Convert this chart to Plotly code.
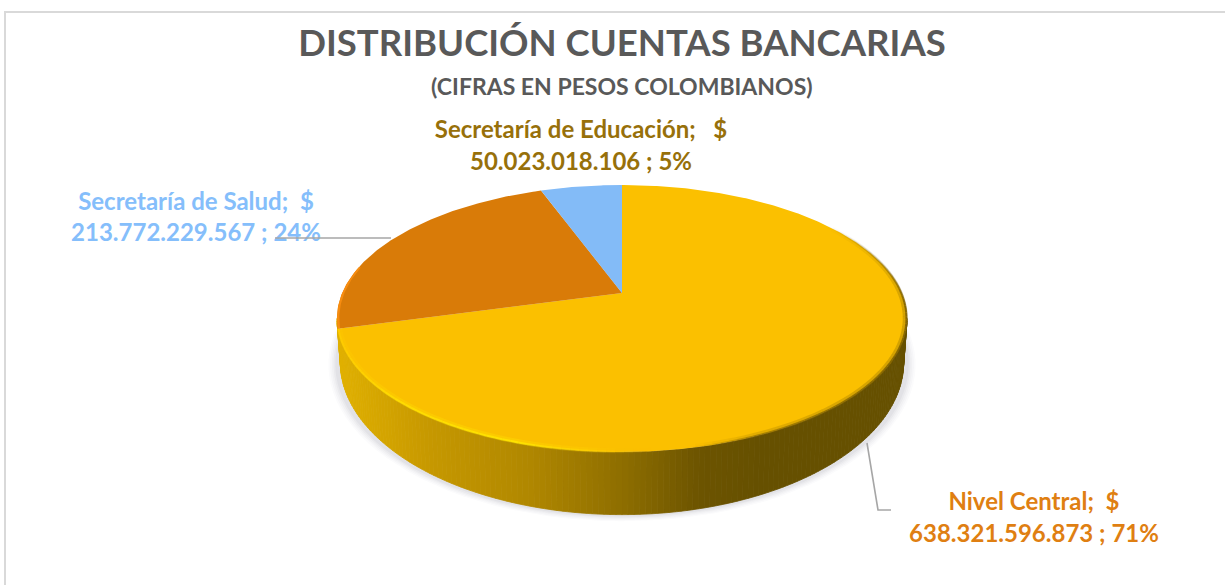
import math
import plotly.graph_objects as go

# ---- data -------------------------------------------------------------
categories = ["Nivel Central", "Secretaría de Salud", "Secretaría de Educación"]
values = [638321596873, 213772229567, 50023018106]
percent_labels = ["71%", "24%", "5%"]
slice_colors = ["#FBC000", "#D97B08", "#83BBF7"]
label_colors = ["#DF7F12", "#85BEFB", "#97700A"]
chart_title = "DISTRIBUCIÓN CUENTAS BANCARIAS"
chart_subtitle = "(CIFRAS EN PESOS COLOMBIANOS)"

# ---- 3D-look projection of the pie disc onto hidden pixel-like axes ----
CX, CY = 622.0, 293.0
A, B, P = 128.6, 279.8, 0.191
DEPTH = 41.0


def project(theta_deg, r=1.0, lowered=0.0, shrink=0.0):
    t = math.radians(theta_deg)
    u, v = r * math.sin(t), r * math.cos(t)
    w = 1 + P * v
    return (CX + B * u / w * (1 - shrink * lowered),
            CY - A * v / w + DEPTH * lowered / (w * w))


def frange(a, b, step):
    n = max(1, int(abs(b - a) / step))
    return [a + (b - a) * i / n for i in range(n + 1)]


def lerp_stops(x, stops):
    if x <= stops[0][0]:
        return stops[0][1]
    for (x0, c0), (x1, c1) in zip(stops, stops[1:]):
        if x <= x1:
            k = (x - x0) / (x1 - x0)
            return tuple(c0[i] + (c1[i] - c0[i]) * k for i in range(len(c0)))
    return stops[-1][1]


def rgb(c, alpha=None):
    if alpha is None:
        return "rgb(%d,%d,%d)" % tuple(round(q) for q in c[:3])
    return "rgba(%d,%d,%d,%.3f)" % (*[round(q) for q in c[:3]], alpha)


total = sum(values)
spans = []
acc = 0.0
for val in values:
    spans.append((acc / total * 360, (acc + val) / total * 360))
    acc += val

side_stops = [(338, (224, 176, 0)), (430, (198, 152, 0)), (530, (176, 135, 0)),
              (622, (142, 110, 0)), (700, (108, 84, 0)), (760, (102, 80, 0)),
              (907, (102, 80, 0))]
# colour + opacity of the bevel along the top face edge, by screen x
bevel_stops = [(338, (255, 205, 0, 0.7)), (400, (255, 222, 0, 0.9)), (520, (255, 228, 0, 0.9)),
               (600, (255, 210, 0, 0.5)), (650, (240, 185, 0, 0.0)), (690, (130, 100, 0, 0.0)),
               (760, (120, 92, 0, 0.55)), (907, (120, 92, 0, 0.85))]

fig = go.Figure()


def poly(xs, ys, color, name=None, line=0.0):
    fig.add_trace(go.Scatter(
        x=xs, y=ys, mode="lines", fill="toself", fillcolor=color, name=name,
        line=dict(color=color, width=line), hoverinfo="skip" if name is None else "name"))


# soft shadow under the disc
for grow, alpha in [(1.030, 0.018), (1.024, 0.022), (1.018, 0.028), (1.012, 0.035), (1.006, 0.04)]:
    pts = [project(t, r=1.0, lowered=1.0) for t in frange(0, 360, 3)]
    xs = [CX + (p[0] - CX) * grow for p in pts]
    ys = [CY + 30 + (p[1] - CY - 30) * grow + 1 for p in pts]
    poly(xs, ys, f"rgba(60,60,80,{alpha})")

# side wall, drawn as thin strips shaded from left to right
SIDE_A, SIDE_B = 101.0, 259.0
strip_edges = frange(SIDE_A, SIDE_B, 1.0)
for t0, t1 in zip(strip_edges, strip_edges[1:]):
    p0, p1 = project(t0), project(t1)
    q0, q1 = project(t0, lowered=1.0, shrink=0.012), project(t1, lowered=1.0, shrink=0.012)
    col = rgb(lerp_stops((p0[0] + p1[0]) / 2, side_stops))
    poly([p0[0], p1[0], q1[0], q0[0], p0[0]], [p0[1], p1[1], q1[1], q0[1], p0[1]], col, line=0.8)

# top face slices, their angles come from the values
for cat, val, col, (a0, a1) in zip(categories, values, slice_colors, spans):
    pts = [project(t) for t in frange(a0, a1, 0.5)]
    xs = [CX] + [p[0] for p in pts] + [CX]
    ys = [CY] + [p[1] for p in pts] + [CY]
    poly(xs, ys, col, name=cat)

# orange rim sliver at the far left of the Salud slice
rim = [project(t, r=1.0) for t in frange(spans[1][0], 282, 1)]
rim2 = [project(t, r=0.992) for t in frange(282, spans[1][0], 1)]
poly([p[0] for p in rim + rim2], [p[1] for p in rim + rim2], "rgb(247,140,15)")

# bevel on the front edge of the top face
thetas = frange(55, spans[0][1], 1.5)
for t0, t1 in zip(thetas, thetas[1:]):
    mid = (t0 + t1) / 2
    fade = min(1.0, max(0.0, (mid - 55) / 40))
    a = project(t0, r=0.994)
    b = project(t1, r=0.994)
    x = (a[0] + b[0]) / 2
    c = lerp_stops(x, bevel_stops)
    fig.add_trace(go.Scatter(x=[a[0], b[0]], y=[a[1], b[1]], mode="lines", hoverinfo="skip",
                             line=dict(color=rgb(c, c[3] * 0.35 * fade), width=5)))
    a = project(t0, r=0.998)
    b = project(t1, r=0.998)
    fig.add_trace(go.Scatter(x=[a[0], b[0]], y=[a[1], b[1]], mode="lines", hoverinfo="skip",
                             line=dict(color=rgb(c, c[3] * fade), width=2)))

# data labels
label_x = [1034, 196, 581]
label_y = [520, 219.5, 148]
label_text = [
    f"{c};  $<br>{v:,} ; {p}".replace(",", ".")
    for c, v, p in zip(categories, values, percent_labels)
]
label_text[2] = (f"{categories[2]};   $<br>{values[2]:,} ; {percent_labels[2]}").replace(",", ".")
for x, y, txt, col in zip(label_x, label_y, label_text, label_colors):
    fig.add_trace(go.Scatter(x=[x], y=[y], mode="text", text=[txt], textposition="middle center",
                             textfont=dict(family="Lato, Carlito, sans-serif", size=24, color=col,
                                           weight="bold"),
                             hoverinfo="skip"))

# leader lines
leader_x = [[275, 391], [867, 878, 891]]
leader_y = [[238, 238], [443, 510, 510]]
for xs, ys in zip(leader_x, leader_y):
    fig.add_trace(go.Scatter(x=xs, y=ys, mode="lines", hoverinfo="skip",
                             line=dict(color="#A6A6A6", width=1.6)))

# chart frame
fig.add_shape(type="rect", x0=5, y0=12, x1=1240, y1=600, xref="x", yref="y",
              line=dict(color="#D9D9D9", width=2), layer="below")

fig.update_layout(
    width=1225, height=585, margin=dict(l=0, r=0, t=0, b=0),
    paper_bgcolor="white", plot_bgcolor="white", showlegend=False,
    title=dict(text=chart_title, x=622 / 1225, y=1 - 43 / 585, xanchor="center", yanchor="middle",
               font=dict(family="Lato, Carlito, sans-serif", size=36.5, color="#595959", weight="bold")),
    xaxis=dict(range=[0, 1225], visible=False, fixedrange=True),
    yaxis=dict(range=[585, 0], visible=False, fixedrange=True),
    annotations=[dict(text=chart_subtitle, x=622, y=86, xref="x", yref="y", showarrow=False,
                      font=dict(family="Lato, Carlito, sans-serif", size=23, color="#595959",
                                weight="bold"))],
)

fig.write_html("out.html", post_script="document.body.style.margin='0';",
               config={"displayModeBar": False})
